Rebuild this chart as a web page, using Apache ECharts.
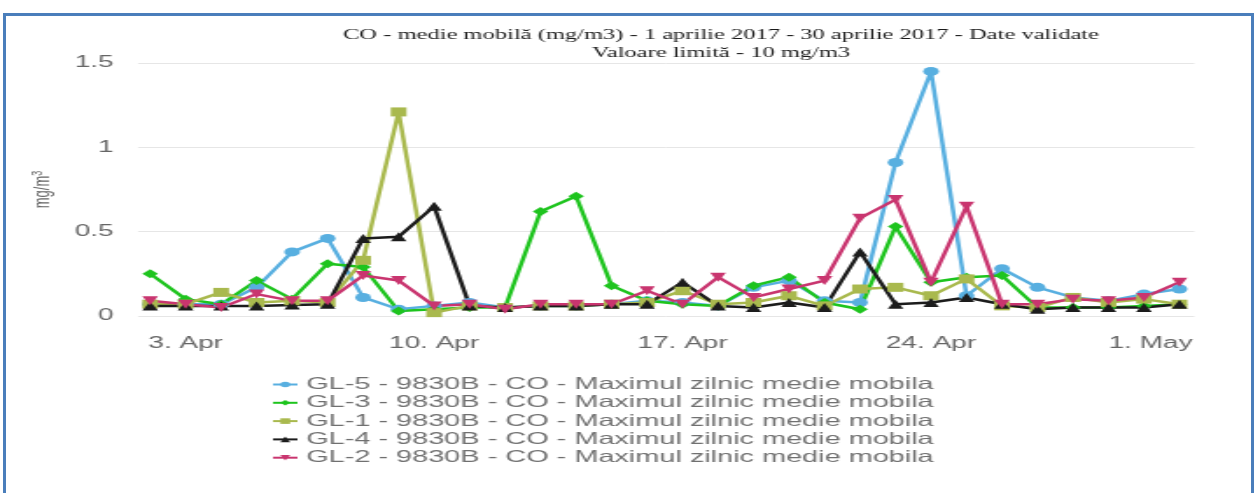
<!DOCTYPE html>
<html>
<head>
<meta charset="utf-8">
<script src="https://cdn.jsdelivr.net/npm/echarts@6/dist/echarts.min.js"></script>
<style>
  html, body { margin: 0; padding: 0; background: #fff; width: 1259px; height: 493px; overflow: hidden; }
  #stage { position: absolute; left: 0; top: 0; width: 1259px; height: 493px; overflow: hidden; }
  #chart { position: absolute; left: 0; top: 0; width: 719.43px; height: 493px; transform: scaleX(1.75); transform-origin: 0 0; }
  #frame { position: absolute; left: 3px; top: 13px; width: 1245px; height: 520px; border: 3px solid #4a7ebb; pointer-events: none; }
</style>
</head>
<body>
<div id="stage">
  <div id="chart"></div>
  <div id="frame"></div>
</div>
<script>
// ---- data ----
const dates = [
  '2017-04-02','2017-04-03','2017-04-04','2017-04-05','2017-04-06','2017-04-07','2017-04-08',
  '2017-04-09','2017-04-10','2017-04-11','2017-04-12','2017-04-13','2017-04-14','2017-04-15',
  '2017-04-16','2017-04-17','2017-04-18','2017-04-19','2017-04-20','2017-04-21','2017-04-22',
  '2017-04-23','2017-04-24','2017-04-25','2017-04-26','2017-04-27','2017-04-28','2017-04-29',
  '2017-04-30','2017-05-01'
];
const tickDates = ['2017-04-03','2017-04-10','2017-04-17','2017-04-24','2017-05-01'];
const monthNames = ['Jan','Feb','Mar','Apr','May','Jun','Jul','Aug','Sep','Oct','Nov','Dec'];
const yTicks = [0, 0.5, 1, 1.5];

const seriesNames = [
  'GL-5 - 9830B - CO - Maximul zilnic medie mobila',
  'GL-3 - 9830B - CO - Maximul zilnic medie mobila',
  'GL-1 - 9830B - CO - Maximul zilnic medie mobila',
  'GL-4 - 9830B - CO - Maximul zilnic medie mobila',
  'GL-2 - 9830B - CO - Maximul zilnic medie mobila'
];
const gl5 = [0.07,0.07,0.07,0.17,0.38,0.46,0.11,0.04,0.06,0.08,0.05,0.06,0.06,0.07,0.09,0.08,0.06,0.17,0.21,0.09,0.08,0.91,1.45,0.12,0.28,0.17,0.11,0.09,0.13,0.16];
const gl3 = [0.25,0.10,0.07,0.21,0.10,0.31,0.29,0.03,0.04,0.05,0.05,0.62,0.71,0.18,0.09,0.07,0.06,0.18,0.23,0.08,0.04,0.53,0.20,0.23,0.24,0.05,0.05,0.05,0.06,0.07];
const gl1 = [0.07,0.07,0.14,0.08,0.09,0.08,0.33,1.21,0.02,0.06,0.05,0.06,0.06,0.07,0.08,0.15,0.07,0.08,0.12,0.06,0.16,0.17,0.12,0.22,0.06,0.05,0.11,0.08,0.10,0.07];
const gl4 = [0.06,0.06,0.06,0.06,0.065,0.07,0.46,0.47,0.65,0.06,0.05,0.06,0.06,0.07,0.07,0.20,0.06,0.05,0.08,0.05,0.38,0.07,0.08,0.11,0.07,0.04,0.05,0.05,0.05,0.07];
const gl2 = [0.09,0.07,0.05,0.13,0.09,0.09,0.24,0.21,0.06,0.07,0.04,0.07,0.07,0.07,0.15,0.07,0.23,0.11,0.16,0.21,0.58,0.69,0.20,0.65,0.07,0.07,0.10,0.09,0.11,0.20];

const seriesValues = [gl5, gl3, gl1, gl4, gl2];
const seriesColors = ['#58afe0', '#1ec41e', '#a9b94e', '#1c1c1c', '#c9356f'];
const seriesSymbols = ['circle', 'diamond', 'rect', 'triangle', 'path://M0,0L10,0L5,10Z'];

// ---- build ----
const DAY = 86400000;
const toTs = s => Date.UTC(+s.slice(0,4), +s.slice(5,7) - 1, +s.slice(8,10));
const xs = dates.map(toTs);
const xMin = xs[0] - 0.34 * DAY;
const xMax = xs[xs.length - 1] + 0.42 * DAY;
const lastTick = toTs(tickDates[tickDates.length - 1]);

const chart = echarts.init(document.getElementById('chart'), null, { renderer: 'canvas' });
const font = "'Liberation Sans', Arial, sans-serif";
const serif = "'Liberation Serif', 'Times New Roman', serif";

const option = {
  animation: false,
  backgroundColor: 'transparent',
  title: {
    text: 'CO - medie mobilă (mg/m3) - 1 aprilie 2017 - 30 aprilie 2017 - Date validate\nValoare limită - 10 mg/m3',
    left: 407,
    top: 21,
    textAlign: 'center',
    textStyle: { fontFamily: serif, fontSize: 14, fontWeight: 'normal', color: '#1a1a1a', lineHeight: 18, align: 'center' }
  },
  legend: {
    orient: 'vertical',
    left: 150,
    top: 371,
    itemWidth: 14,
    itemHeight: 7,
    itemGap: 1.3,
    textStyle: { fontFamily: font, fontSize: 16.5, color: '#707070', lineHeight: 16 },
    data: seriesNames
  },
  grid: { left: 78.9, right: 36.5, top: 63, bottom: 177, containLabel: false },
  xAxis: {
    type: 'value',
    min: xMin,
    max: xMax,
    splitLine: { show: false },
    axisLine: { show: false },
    axisTick: { show: false },
    axisLabel: {
      customValues: tickDates.map(toTs),
      formatter: v => {
        const d = new Date(v);
        const t = d.getUTCDate() + '. ' + monthNames[d.getUTCMonth()];
        return v === lastTick ? '{m|' + t + '}' : t;
      },
      fontFamily: font, fontSize: 16, color: '#666', margin: 20,
      rich: { m: { fontFamily: font, fontSize: 16, color: '#666', padding: [0, 33, 0, 0] } }
    }
  },
  yAxis: {
    type: 'value',
    min: yTicks[0],
    max: yTicks[yTicks.length - 1],
    interval: 0.5,
    splitLine: { lineStyle: { color: '#e6e6e6', width: 1 } },
    axisLine: { show: false },
    axisTick: { show: false },
    axisLabel: { fontFamily: font, fontSize: 16, color: '#666', margin: 14 },
    name: '{a|mg/m}{b|3}',
    nameLocation: 'middle',
    nameRotate: 90,
    nameGap: 46,
    nameTextStyle: {
      rich: {
        a: { fontFamily: font, fontSize: 13, color: '#666' },
        b: { fontFamily: font, fontSize: 9, color: '#666', padding: [0, 0, 7, 0] }
      }
    }
  },
  series: seriesNames.map((name, k) => ({
    name: name,
    type: 'line',
    data: seriesValues[k].map((v, i) => [xs[i], v]),
    symbol: seriesSymbols[k],
    symbolSize: 9,
    showAllSymbol: true,
    lineStyle: { width: 2.5, color: seriesColors[k] },
    itemStyle: { color: seriesColors[k] },
    emphasis: { disabled: true }
  }))
};
chart.setOption(option);
</script>
</body>
</html>
